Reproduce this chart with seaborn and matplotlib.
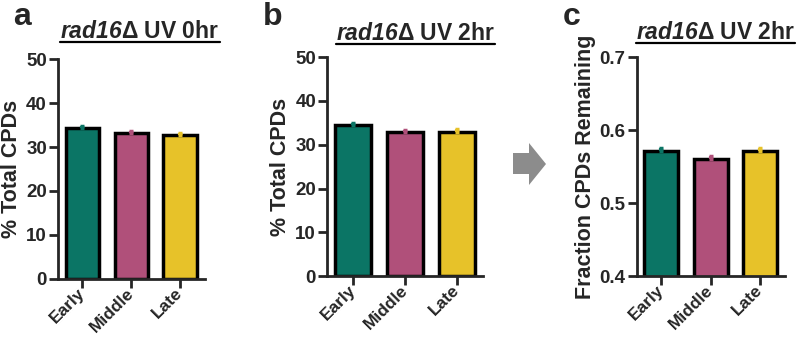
import numpy as np
import pandas as pd
import seaborn as sns
import matplotlib.pyplot as plt
from matplotlib.patches import Polygon
from matplotlib.lines import Line2D

categories = ['Early', 'Middle', 'Late']
colors = ['#0b7565', '#b0507a', '#e7c229']

uv0_values = [34.3, 33.2, 32.7]
uv0_err = [0.5, 0.5, 0.5]
uv2_values = [34.5, 32.9, 33.0]
uv2_err = [0.5, 0.5, 0.5]
frac_values = [0.571, 0.560, 0.572]
frac_err = [0.004, 0.004, 0.004]

sns.set_style("ticks")
plt.rcParams['font.family'] = ['Liberation Sans', 'DejaVu Sans']
plt.rcParams['font.weight'] = 'bold'
plt.rcParams['axes.labelweight'] = 'bold'
plt.rcParams['mathtext.fontset'] = 'custom'
plt.rcParams['mathtext.bfit'] = 'Liberation Sans:italic:bold'
plt.rcParams['mathtext.rm'] = 'Liberation Sans:bold'

fig = plt.figure(figsize=(8, 3.38), dpi=100)


def panel(rect, values, errs, ylim, yticks, ylabel, ticklabels):
    ax = fig.add_axes(rect)
    df = pd.DataFrame({'Region': categories, 'value': values})
    sns.barplot(data=df, x='Region', y='value', hue='Region', palette=colors,
                edgecolor='black', linewidth=2.5, width=0.69, errorbar=None,
                legend=False, ax=ax, saturation=1)
    for i, (v, e) in enumerate(zip(values, errs)):
        ax.errorbar(i, v, yerr=[[0], [e]], fmt='none', ecolor=colors[i],
                    elinewidth=3, capsize=1.5, capthick=2.5, zorder=5)
    ax.set_ylim(*ylim)
    ax.set_yticks(yticks)
    ax.set_yticklabels(ticklabels)
    ax.set_xlim(-0.5, 2.5)
    ax.set_xlabel('')
    ax.set_ylabel(ylabel, fontsize=15.5, fontweight='bold', labelpad=3)
    sns.despine(ax=ax)
    for s in ['left', 'bottom']:
        ax.spines[s].set_linewidth(2)
    ax.tick_params(width=2, length=6.5, labelsize=13.5, pad=1.5)
    ax.tick_params(axis='x', pad=2)
    plt.setp(ax.get_xticklabels(), rotation=45, ha='right', va='center',
             rotation_mode='anchor', fontweight='bold', fontsize=12.5)
    plt.setp(ax.get_yticklabels(), fontweight='bold')
    return ax


ax_a = panel([0.0725, 0.1746, 0.1835, 0.6508], uv0_values, uv0_err,
             (0, 50), [0, 10, 20, 30, 40, 50], '% Total CPDs',
             ['0', '10', '20', '30', '40', '50'])
ax_b = panel([0.409, 0.183, 0.195, 0.648], uv2_values, uv2_err,
             (0, 50), [0, 10, 20, 30, 40, 50], '% Total CPDs',
             ['0', '10', '20', '30', '40', '50'])
ax_c = panel([0.796, 0.183, 0.185, 0.648], frac_values, frac_err,
             (0.4, 0.7), [0.4, 0.5, 0.6, 0.7], 'Fraction CPDs Remaining',
             ['0.4', '0.5', '0.6', '0.7'])

titles = [(0.175, 0.888, r'$\mathbfit{rad16}$Δ UV 0hr'),
          (0.519, 0.882, r'$\mathbfit{rad16}$Δ UV 2hr'),
          (0.894, 0.885, r'$\mathbfit{rad16}$Δ UV 2hr')]
title_objs = []
for x, y, t in titles:
    title_objs.append(fig.text(x, y, t, ha='center', va='baseline',
                               fontsize=16.5, fontweight='bold'))

for x, lab in [(0.016, 'a'), (0.329, 'b'), (0.703, 'c')]:
    fig.text(x, 0.926, lab, fontsize=23, fontweight='bold', va='baseline')

# underline the titles
fig.canvas.draw()
renderer = fig.canvas.get_renderer()
for t, (x, y, _) in zip(title_objs, titles):
    bb = t.get_window_extent(renderer).transformed(fig.transFigure.inverted())
    yl = y - 4.5 / 338
    fig.add_artist(Line2D([bb.x0, bb.x1], [yl, yl], color='black', lw=1.6,
                          transform=fig.transFigure))

# grey arrow between panels b and c
pts = [(513, 153), (529, 153), (529, 143), (546, 164), (529, 185),
       (529, 174), (513, 174)]
pts = [(px / 800, 1 - py / 338) for px, py in pts]
fig.add_artist(Polygon(pts, closed=True, facecolor='#8c8c8c',
                       edgecolor='none', transform=fig.transFigure))

fig.savefig('out.png', dpi=100)
